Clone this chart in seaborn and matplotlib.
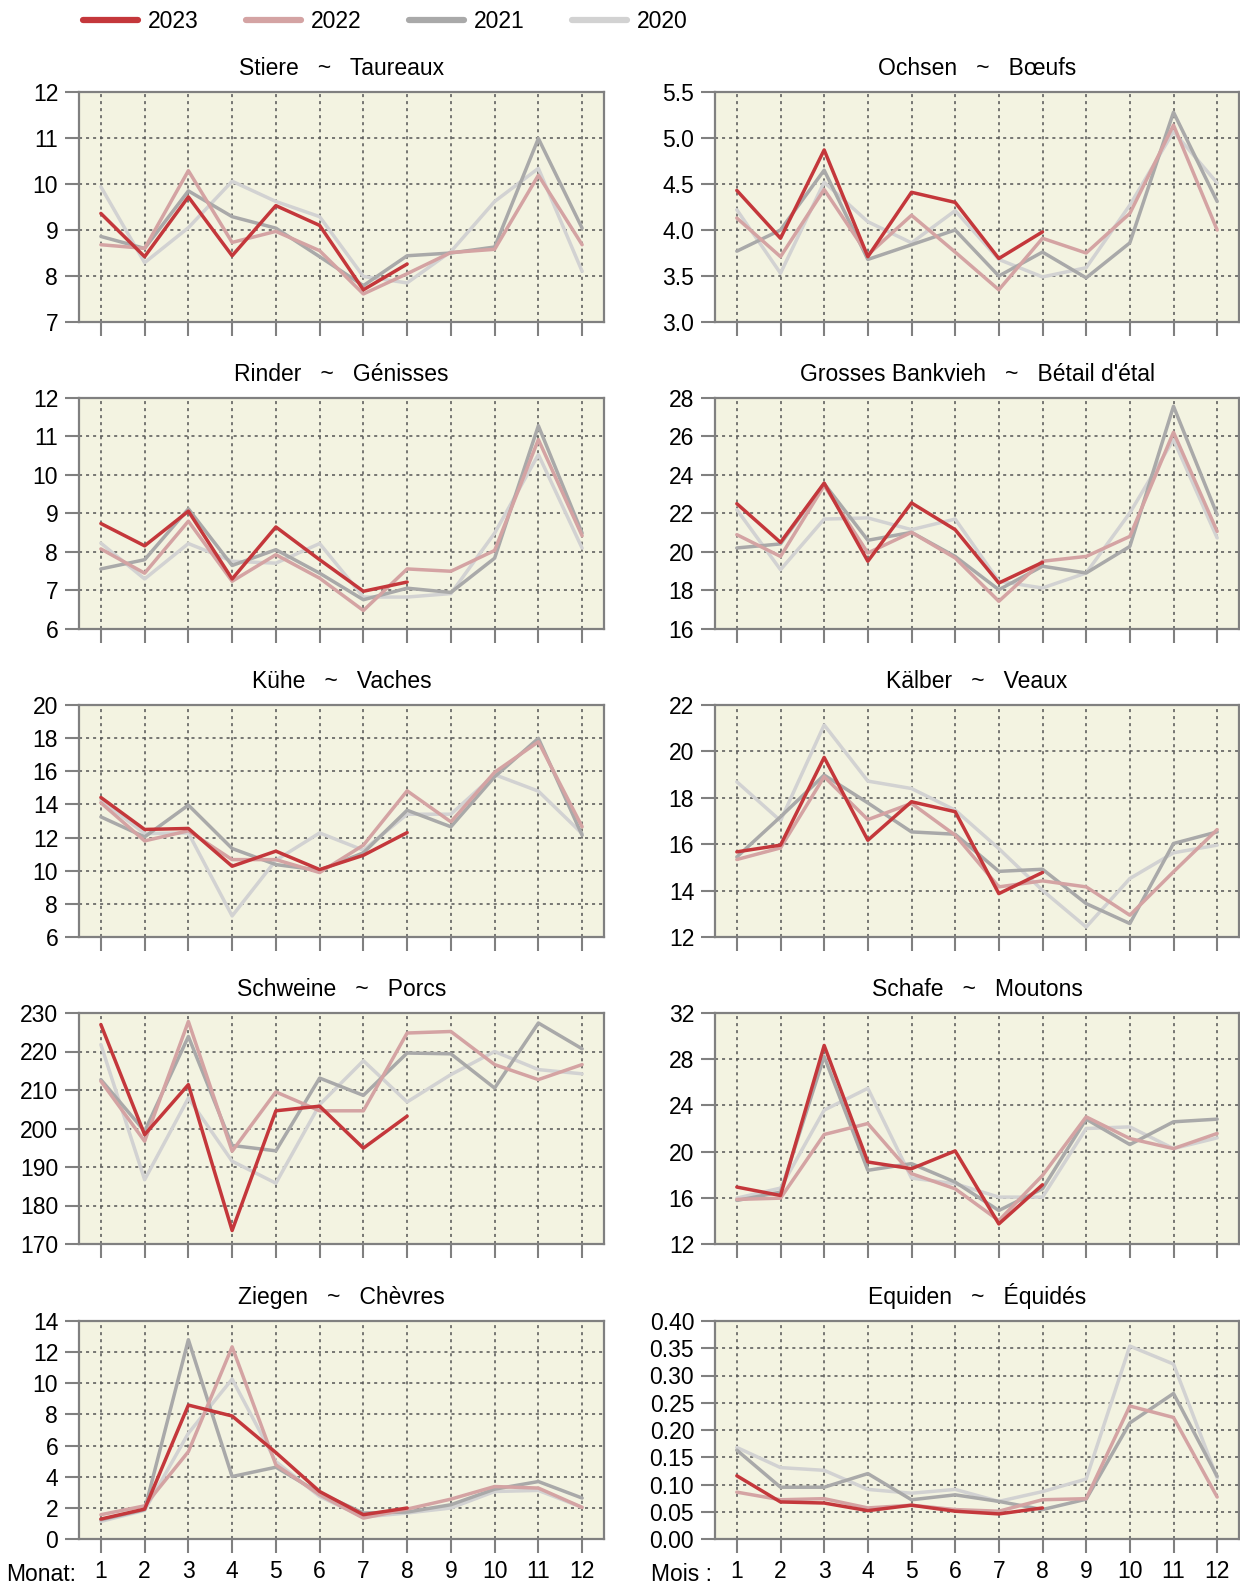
import numpy as np
import pandas as pd
import matplotlib
matplotlib.use("Agg")
import matplotlib.pyplot as plt
from matplotlib.lines import Line2D
import seaborn as sns

# months and years
months = list(range(1, 13))
years = ["2023", "2022", "2021", "2020"]
colors = {"2023": "#C4373B", "2022": "#D4A3A3", "2021": "#A9A9A9", "2020": "#D2D2D2"}
NA = np.nan

# Stiere ~ Taureaux
stiere_2023 = [9.36, 8.42, 9.72, 8.44, 9.53, 9.10, 7.70, 8.26, NA, NA, NA, NA]
stiere_2022 = [8.68, 8.60, 10.29, 8.73, 8.97, 8.55, 7.61, 8.05, 8.51, 8.58, 10.19, 8.68]
stiere_2021 = [8.86, 8.60, 9.85, 9.29, 9.04, 8.42, 7.79, 8.44, 8.50, 8.63, 10.99, 9.04]
stiere_2020 = [9.94, 8.29, 9.05, 10.06, 9.62, 9.29, 7.99, 7.85, 8.53, 9.62, 10.34, 8.10]

# Ochsen ~ Boeufs
ochsen_2023 = [4.43, 3.91, 4.87, 3.71, 4.41, 4.30, 3.69, 3.98, NA, NA, NA, NA]
ochsen_2022 = [4.13, 3.71, 4.44, 3.73, 4.16, 3.76, 3.35, 3.91, 3.75, 4.18, 5.14, 4.00]
ochsen_2021 = [3.77, 4.00, 4.65, 3.68, 3.84, 4.00, 3.50, 3.76, 3.48, 3.86, 5.28, 4.31]
ochsen_2020 = [4.22, 3.53, 4.52, 4.09, 3.86, 4.21, 3.68, 3.49, 3.59, 4.27, 5.07, 4.51]

# Rinder ~ Genisses
rinder_2023 = [8.74, 8.16, 9.06, 7.30, 8.65, 7.80, 6.98, 7.22, NA, NA, NA, NA]
rinder_2022 = [8.08, 7.45, 8.80, 7.24, 7.93, 7.32, 6.48, 7.56, 7.50, 8.04, 10.92, 8.42]
rinder_2021 = [7.56, 7.80, 9.12, 7.65, 8.06, 7.45, 6.76, 7.06, 6.95, 7.84, 11.28, 8.49]
rinder_2020 = [8.23, 7.30, 8.22, 7.76, 7.71, 8.22, 6.83, 6.83, 6.92, 8.49, 10.53, 8.10]

# Grosses Bankvieh ~ Betail d'etal
bank_2023 = [22.51, 20.50, 23.58, 19.52, 22.55, 21.16, 18.39, 19.46, NA, NA, NA, NA]
bank_2022 = [20.90, 19.77, 23.45, 19.95, 21.02, 19.69, 17.44, 19.52, 19.77, 20.81, 26.22, 21.07]
bank_2021 = [20.21, 20.42, 23.55, 20.61, 21.02, 19.77, 18.04, 19.26, 18.91, 20.29, 27.57, 21.94]
bank_2020 = [22.20, 19.08, 21.71, 21.77, 21.16, 21.71, 18.48, 18.13, 18.91, 22.03, 25.84, 20.73]

# Kuehe ~ Vaches
kuehe_2023 = [14.42, 12.49, 12.55, 10.27, 11.18, 10.07, 10.93, 12.30, NA, NA, NA, NA]
kuehe_2022 = [14.10, 11.80, 12.41, 10.67, 10.67, 9.89, 11.54, 14.82, 12.95, 15.94, 17.78, 12.65]
kuehe_2021 = [13.25, 12.04, 13.96, 11.34, 10.37, 10.03, 11.08, 13.65, 12.65, 15.67, 17.99, 12.14]
kuehe_2020 = [14.26, 12.24, 12.28, 7.27, 10.63, 12.28, 11.24, 13.41, 13.41, 15.80, 14.80, 12.24]

# Kaelber ~ Veaux
kaelber_2023 = [15.67, 15.96, 19.74, 16.17, 17.83, 17.40, 13.87, 14.78, NA, NA, NA, NA]
kaelber_2022 = [15.34, 15.84, 18.91, 17.06, 17.76, 16.39, 14.16, 14.42, 14.16, 12.94, 14.81, 16.63]
kaelber_2021 = [15.45, 17.18, 18.98, 17.78, 16.53, 16.43, 14.83, 14.92, 13.44, 12.58, 16.03, 16.53]
kaelber_2020 = [18.69, 17.01, 21.14, 18.72, 18.40, 17.47, 15.81, 14.01, 12.43, 14.52, 15.63, 15.96]

# Schweine ~ Porcs
schweine_2023 = [227.0, 198.4, 211.4, 173.5, 204.6, 205.8, 194.9, 203.2, NA, NA, NA, NA]
schweine_2022 = [212.3, 196.7, 227.8, 194.1, 209.5, 204.6, 204.6, 224.8, 225.2, 216.6, 212.7, 216.6]
schweine_2021 = [212.7, 199.3, 223.9, 195.6, 194.2, 213.1, 208.6, 219.6, 219.4, 210.5, 227.4, 220.7]
schweine_2020 = [221.8, 186.7, 207.9, 191.5, 185.8, 206.2, 217.6, 206.9, 214.0, 220.0, 215.3, 214.2]

# Schafe ~ Moutons
schafe_2023 = [16.93, 16.20, 29.19, 19.10, 18.52, 20.06, 13.74, 17.13, NA, NA, NA, NA]
schafe_2022 = [15.86, 15.97, 21.48, 22.43, 18.09, 16.78, 14.03, 17.94, 23.01, 21.13, 20.26, 21.57]
schafe_2021 = [15.77, 16.49, 28.23, 18.38, 18.96, 17.36, 14.90, 16.78, 22.81, 20.61, 22.58, 22.81]
schafe_2020 = [15.97, 16.84, 23.59, 25.48, 17.71, 17.22, 16.06, 16.06, 22.00, 22.14, 20.26, 21.19]

# Ziegen ~ Chevres
ziegen_2023 = [1.28, 1.92, 8.60, 7.90, 5.55, 3.05, 1.56, 1.99, NA, NA, NA, NA]
ziegen_2022 = [1.56, 2.13, 5.61, 12.34, 4.76, 2.84, 1.34, 1.92, 2.56, 3.37, 3.27, 2.03]
ziegen_2021 = [1.24, 1.88, 12.80, 4.01, 4.61, 2.95, 1.67, 1.73, 2.20, 3.20, 3.69, 2.63]
ziegen_2020 = [1.13, 1.84, 6.79, 10.27, 4.97, 2.73, 1.41, 1.67, 1.99, 3.05, 3.12, 2.03]

# Equiden ~ Equides
equiden_2023 = [0.116, 0.068, 0.066, 0.052, 0.062, 0.051, 0.046, 0.057, NA, NA, NA, NA]
equiden_2022 = [0.086, 0.072, 0.074, 0.057, 0.062, 0.054, 0.051, 0.072, 0.074, 0.244, 0.223, 0.077]
equiden_2021 = [0.163, 0.095, 0.095, 0.120, 0.072, 0.081, 0.069, 0.054, 0.073, 0.213, 0.267, 0.115]
equiden_2020 = [0.168, 0.131, 0.126, 0.091, 0.084, 0.091, 0.069, 0.087, 0.110, 0.354, 0.321, 0.112]

titles = [
    "Stiere   ~   Taureaux", "Ochsen   ~   Bœufs",
    "Rinder   ~   Génisses", "Grosses Bankvieh   ~   Bétail d'étal",
    "Kühe   ~   Vaches", "Kälber   ~   Veaux",
    "Schweine   ~   Porcs", "Schafe   ~   Moutons",
    "Ziegen   ~   Chèvres", "Equiden   ~   Équidés",
]
series = [
    [stiere_2023, stiere_2022, stiere_2021, stiere_2020],
    [ochsen_2023, ochsen_2022, ochsen_2021, ochsen_2020],
    [rinder_2023, rinder_2022, rinder_2021, rinder_2020],
    [bank_2023, bank_2022, bank_2021, bank_2020],
    [kuehe_2023, kuehe_2022, kuehe_2021, kuehe_2020],
    [kaelber_2023, kaelber_2022, kaelber_2021, kaelber_2020],
    [schweine_2023, schweine_2022, schweine_2021, schweine_2020],
    [schafe_2023, schafe_2022, schafe_2021, schafe_2020],
    [ziegen_2023, ziegen_2022, ziegen_2021, ziegen_2020],
    [equiden_2023, equiden_2022, equiden_2021, equiden_2020],
]
yticks = [
    [7, 8, 9, 10, 11, 12],
    [3.0, 3.5, 4.0, 4.5, 5.0, 5.5],
    [6, 7, 8, 9, 10, 11, 12],
    [16, 18, 20, 22, 24, 26, 28],
    [6, 8, 10, 12, 14, 16, 18, 20],
    [12, 14, 16, 18, 20, 22],
    [170, 180, 190, 200, 210, 220, 230],
    [12, 16, 20, 24, 28, 32],
    [0, 2, 4, 6, 8, 10, 12, 14],
    [0.00, 0.05, 0.10, 0.15, 0.20, 0.25, 0.30, 0.35, 0.40],
]
ytick_fmt = ["{:.0f}", "{:.1f}", "{:.0f}", "{:.0f}", "{:.0f}",
             "{:.0f}", "{:.0f}", "{:.0f}", "{:.0f}", "{:.2f}"]
month_prefix = ["Monat:", "Mois :"]

sns.set_style("ticks")
plt.rcParams["font.family"] = ["Liberation Sans", "DejaVu Sans"]
plt.rcParams["text.color"] = "black"

FS = 16.5
W, H = 1240, 1584
fig = plt.figure(figsize=(W / 100, H / 100), dpi=100)

# panel frames in pixels: (left, right) per column, (top, bottom) per row
cols = [(79, 604), (715, 1239)]
rows = [(92, 322), (398, 629), (705, 937), (1013, 1244), (1321, 1539)]

frame_col = "#808080"
for i in range(10):
    r, c = divmod(i, 2)
    x0, x1 = cols[c]
    y0, y1 = rows[r]
    ax = fig.add_axes([x0 / W, 1 - y1 / H, (x1 - x0) / W, (y1 - y0) / H])
    ax.set_facecolor("#F3F3E1")

    df = pd.DataFrame({
        "Monat": months * 4,
        "Wert": sum(series[i], []),
        "Jahr": [y for y in years for _ in months],
    })
    sns.lineplot(data=df, x="Monat", y="Wert", hue="Jahr",
                 hue_order=["2020", "2021", "2022", "2023"], palette=colors,
                 linewidth=2.5, legend=False, ax=ax)

    ax.set_xlim(0.5, 12.5)
    ax.set_ylim(yticks[i][0], yticks[i][-1])
    ax.set_xticks(months)
    ax.set_yticks(yticks[i])
    ax.set_yticklabels([ytick_fmt[i].format(v) for v in yticks[i]])
    if r < 4:
        ax.set_xticklabels([])
    else:
        ax.set_xticklabels([str(m) for m in months])
        ax.annotate(month_prefix[c], xy=(0, 0), xycoords="axes fraction",
                    xytext=(-2, -17), textcoords="offset points",
                    ha="right", va="top", fontsize=FS, color="black")
    ax.set_xlabel("")
    ax.set_ylabel("")
    ax.grid(True, linestyle=(0, (2, 2.6)), color="#555555", linewidth=1.1)
    ax.set_axisbelow(True)
    for s in ax.spines.values():
        s.set_visible(True)
        s.set_color(frame_col)
        s.set_linewidth(1.6)
    ax.tick_params(direction="out", length=10, width=1.5, color=frame_col,
                   labelsize=FS, pad=5, labelcolor="black")
    ax.set_title(titles[i], fontsize=FS, pad=12, color="black")

handles = [Line2D([], [], color=colors[y], linewidth=4.5) for y in years]
fig.legend(handles, years, loc="center left", bbox_to_anchor=(83 / W, 1 - 22 / H),
           ncol=4, frameon=False, fontsize=FS, handlelength=2.4,
           handletextpad=0.45, columnspacing=2.05, borderpad=0, borderaxespad=0)

fig.savefig("out.png", dpi=100)
